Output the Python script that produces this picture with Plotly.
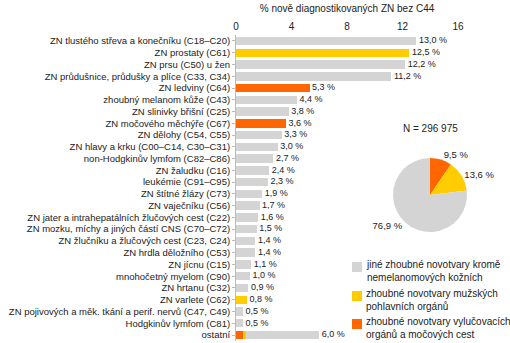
import plotly.graph_objects as go

categories = [
    "ZN tlustého střeva a konečníku (C18–C20)",
    "ZN prostaty (C61)",
    "ZN prsu (C50) u žen",
    "ZN průdušnice, průdušky a plíce (C33, C34)",
    "ZN ledviny (C64)",
    "zhoubný melanom kůže (C43)",
    "ZN slinivky břišní (C25)",
    "ZN močového měchýře (C67)",
    "ZN dělohy (C54, C55)",
    "ZN hlavy a krku (C00–C14, C30–C31)",
    "non-Hodgkinův lymfom (C82–C86)",
    "ZN žaludku (C16)",
    "leukémie (C91–C95)",
    "ZN štítné žlázy (C73)",
    "ZN vaječníku (C56)",
    "ZN jater a intrahepatálních žlučových cest (C22)",
    "ZN mozku, míchy a jiných částí CNS (C70–C72)",
    "ZN žlučníku a žlučových cest (C23, C24)",
    "ZN hrdla děložního (C53)",
    "ZN jícnu (C15)",
    "mnohočetný myelom (C90)",
    "ZN hrtanu (C32)",
    "ZN varlete (C62)",
    "ZN pojivových a měk. tkání a perif. nervů (C47, C49)",
    "Hodgkinův lymfom (C81)",
    "ostatní",
]
values = [13.0, 12.5, 12.2, 11.2, 5.3, 4.4, 3.8, 3.6, 3.3, 3.0, 2.7, 2.4, 2.3,
          1.9, 1.7, 1.6, 1.5, 1.4, 1.4, 1.1, 1.0, 0.9, 0.8, 0.5, 0.5, 6.0]
groups = ["jine", "muz", "jine", "jine", "vyl", "jine", "jine", "vyl", "jine",
          "jine", "jine", "jine", "jine", "jine", "jine", "jine", "jine", "jine",
          "jine", "jine", "jine", "jine", "muz", "jine", "jine", "mix"]
ostatni_split = {"vyl": 0.5, "muz": 0.2, "jine": 5.3}

pie_keys = ["vyl", "muz", "jine"]
pie_values = [9.5, 13.6, 76.9]
legend_keys = ["jine", "muz", "vyl"]
legend_labels = [
    "jiné zhoubné novotvary kromě<br>nemelanomových kožních",
    "zhoubné novotvary mužských<br>pohlavních orgánů",
    "zhoubné novotvary vylučovacích<br>orgánů a močových cest",
]
total_n = "296 975"

colors = {"jine": "#d4d4d4", "muz": "#ffcc00", "vyl": "#ff6600"}
FONT = "Liberation Sans, Arial, sans-serif"
TXT = "#222222"
W, H = 510, 343

def px(x):
    return x / W

def py(y):
    return (H - y) / H

fig = go.Figure()
for key in ["vyl", "muz", "jine"]:
    xs = []
    for v, g in zip(values, groups):
        if g == key:
            xs.append(v)
        elif g == "mix":
            xs.append(ostatni_split[key])
        else:
            xs.append(0)
    fig.add_trace(go.Bar(
        x=xs, y=categories, orientation="h", marker_color=colors[key],
        marker_line_width=0, width=0.72, showlegend=False, hoverinfo="skip",
    ))

fig.add_trace(go.Scatter(
    x=values, y=categories, mode="text",
    text=[" " + f"{v:.1f}".replace(".", ",") + " %" for v in values],
    textposition="middle right",
    textfont=dict(family=FONT, size=9, color=TXT),
    showlegend=False, hoverinfo="skip", cliponaxis=False,
))

fig.add_trace(go.Pie(
    labels=[legend_labels[legend_keys.index(k)] for k in pie_keys],
    values=pie_values,
    marker=dict(colors=[colors[k] for k in pie_keys], line=dict(width=0)),
    sort=False, direction="clockwise", rotation=0,
    text=[f"{v:.1f}".replace(".", ",") + " %" for v in pie_values],
    textinfo="text", textposition="outside",
    textfont=dict(family=FONT, size=9.5, color=TXT),
    domain=dict(x=[px(393), px(467)], y=[py(232), py(158)]),
    hoverinfo="skip", showlegend=False,
))

shapes = []
annotations = [dict(
    x=px(430), y=py(128), xref="paper", yref="paper",
    xanchor="center", yanchor="middle",
    text="N = " + total_n, showarrow=False,
    font=dict(size=10, color=TXT),
)]
legend_tops = [262, 291, 319]
for key, lab, top in zip(legend_keys, legend_labels, legend_tops):
    shapes.append(dict(
        type="rect", xref="paper", yref="paper",
        x0=px(352), x1=px(362), y0=py(top + 10), y1=py(top),
        fillcolor=colors[key], line=dict(width=0),
    ))
    annotations.append(dict(
        x=px(364), y=py(top - 5), xref="paper", yref="paper",
        xanchor="left", yanchor="top", align="left",
        text=lab, showarrow=False,
        font=dict(size=10, color=TXT),
    ))

fig.update_layout(
    width=W, height=H,
    margin=dict(l=0, r=0, t=0, b=0, autoexpand=False),
    paper_bgcolor="white", plot_bgcolor="white",
    barmode="stack", showlegend=False,
    font=dict(family=FONT, size=9.5, color=TXT),
    xaxis=dict(
        domain=[px(236), px(458)], range=[0, 16], side="top",
        tickvals=[0, 4, 8, 12, 16], showgrid=False, zeroline=False,
        showline=False, ticks="", tickfont=dict(size=10, color=TXT),
        ticklabelstandoff=2,
        title=dict(text="% nově diagnostikovaných ZN bez C44",
                   font=dict(size=10, color=TXT), standoff=6),
        automargin=False,
    ),
    yaxis=dict(
        domain=[py(340.9), py(35.1)],
        range=[25.5, -0.5], type="category",
        showgrid=False, zeroline=False,
        showline=True, linecolor="#bbbbbb", linewidth=1,
        ticks="outside", ticklen=3, tickcolor="#bbbbbb",
        tickfont=dict(size=9.5, color=TXT), automargin=False,
    ),
    shapes=shapes,
    annotations=annotations,
)

fig.write_html("out.html")
